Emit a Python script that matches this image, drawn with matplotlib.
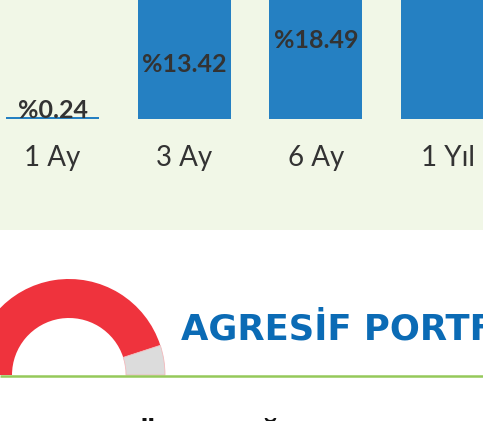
import matplotlib
matplotlib.use("Agg")
import matplotlib.pyplot as plt
from matplotlib.patches import Rectangle, Wedge
from matplotlib.transforms import blended_transform_factory

# data
periods = ["1 Ay", "3 Ay", "6 Ay", "1 Yıl"]
returns = [0.24, 13.42, 18.49, 34.0]
return_labels = ["%0.24", "%13.42", "%18.49", ""]
gauge_values = [90, 10]          # risk gauge: filled / remaining
title = "AGRESİF PORTFÖY"
next_title = "PORTFÖY DAĞILIMI"

W, H = 483, 421
BG_TOP = "#f1f7e7"
BAR_BLUE = "#2580c2"
TXT = "#333333"

fig = plt.figure(figsize=(W / 100, H / 100), dpi=100, facecolor="white")

# page layer in pixel coords (y down)
pg = fig.add_axes([0, 0, 1, 1], zorder=0)
pg.set_xlim(0, W); pg.set_ylim(H, 0)
pg.axis("off")
pg.add_patch(Rectangle((0, 0), W, 230, facecolor=BG_TOP, edgecolor="none"))

# bar chart, baseline at y=119 px, ~10 px per unit
base_px = 119
ax = fig.add_axes([0, 1 - base_px / H, 1, base_px / H], zorder=1)
ax.set_facecolor("none")
step = 131.67
ax.set_xlim(-52.5 / step, (W - 52.5) / step)
ax.set_ylim(0, base_px / 10)
ax.axis("off")
x = list(range(len(periods)))
ax.bar(x, returns, width=93 / step, color=BAR_BLUE, linewidth=0)

trans = blended_transform_factory(ax.transData, pg.transData)
label_px = [110, 65, 41, None]
for xi, lab, py in zip(x, return_labels, label_px):
    if py is None:
        continue
    ax.text(xi, py, lab, transform=trans, ha="center", va="center",
            fontsize=18, fontweight="bold", family="Lato", color=TXT)
for xi, p in zip(x, periods):
    ax.text(xi, 158, p, transform=trans, ha="center", va="center",
            fontsize=20, family="Lato", color=TXT)

# half gauge
cx, cy, r_out, r_in = 69, 375, 96, 57
split = 180 + 180 * gauge_values[0] / sum(gauge_values)
pg.add_patch(Wedge((cx, cy), r_out, 180, split, width=r_out - r_in,
                   facecolor="#ef333d", edgecolor="none"))
pg.add_patch(Wedge((cx, cy), r_out, split, 360, width=r_out - r_in,
                   facecolor="#dcdcdc", edgecolor="#f2b8bb", linewidth=0.6))
pg.plot([0, W], [375.5, 375.5], color="#95c95a", lw=1.8, solid_capstyle="butt")

pg.text(181, 339, title, ha="left", va="baseline", fontsize=25.5,
        fontweight="bold", family="DejaVu Sans", color="#0b6bb5")
pg.text(3, 450.5, next_title, ha="left", va="baseline", fontsize=25.5,
        fontweight="bold", family="DejaVu Sans", color="#111111")

fig.savefig("out.png", dpi=100, facecolor=fig.get_facecolor())
